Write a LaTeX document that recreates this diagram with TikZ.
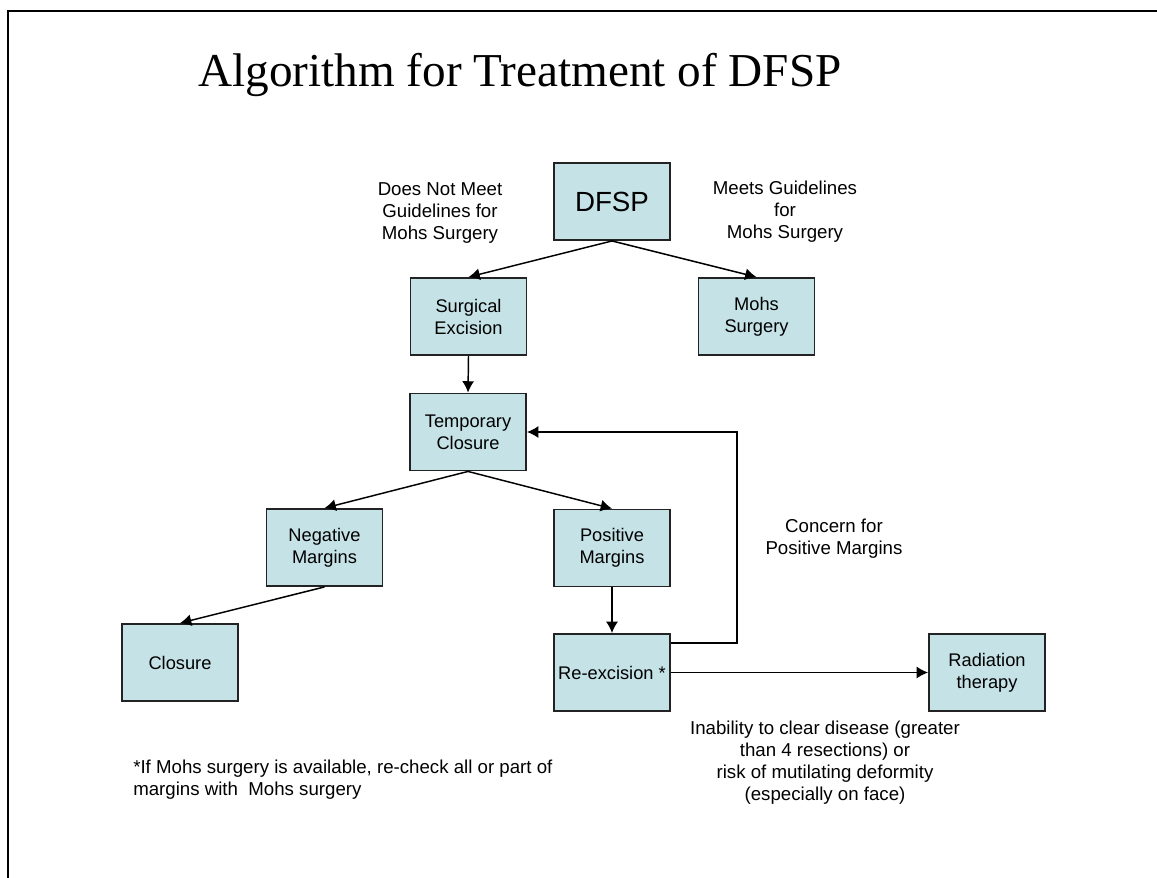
\documentclass[tikz,border=0pt]{standalone}
\usepackage{fontspec}
\setmainfont{Liberation Sans}
\newfontfamily\titlefont{Liberation Serif}
\usetikzlibrary{arrows.meta,calc}
\definecolor{boxfill}{RGB}{197,226,230}
\definecolor{boxline}{RGB}{35,35,35}
\tikzset{
  stepbox/.style={draw=boxline,line width=1.4pt,fill=boxfill,inner sep=0pt,
    minimum width=87pt,minimum height=57.75pt,align=center,
    font=\fontsize{13.7pt}{16.5pt}\selectfont},
  lbl/.style={inner sep=0pt,align=center,font=\fontsize{14pt}{16.5pt}\selectfont},
  arr/.style={draw=black,line width=1.1pt,-{Latex[length=8.5pt,width=9pt]}},
}
\begin{document}
\begin{tikzpicture}[x=0.75pt,y=-0.75pt]
\useasboundingbox (0,0) rectangle (1157,878);
\draw[line width=1.6pt] (8,880) -- (8,11) -- (1160,11);
\node[anchor=base,inner sep=0pt,font=\titlefont\fontsize{35.4pt}{40pt}\selectfont] (title) at (520,86) {Algorithm for Treatment of DFSP};

\node[stepbox,font=\fontsize{20.8pt}{24pt}\selectfont] (dfsp) at (612,201.5) {DFSP};
\node[stepbox] (surg) at (468.5,316.5) {Surgical\\Excision};
\node[stepbox] (mohs) at (756.5,316.5) {Mohs\\Surgery};
\node[stepbox] (temp) at (468,432) {Temporary\\Closure};
\node[stepbox] (neg) at (324.5,547.5) {Negative\\Margins};
\node[stepbox] (pos) at (612,548) {Positive\\Margins};
\node[stepbox] (clos) at (180,662.5) {Closure};
\node[stepbox] (reex) at (612,672.5) {Re-excision *};
\node[stepbox] (rad) at (987,672.5) {Radiation\\therapy};

\node[lbl] (l1) at (440,213) {Does Not Meet\\Guidelines for\\Mohs Surgery};
\node[lbl] (l2) at (785,212) {Meets Guidelines\\for\\Mohs Surgery};
\node[lbl] (l3) at (834,539) {Concern for\\Positive Margins};
\node[lbl] (l4) at (825,763) {Inability to clear disease (greater\\than 4 resections) or\\risk of mutilating deformity\\(especially on face)};
\node[lbl,align=left,anchor=west] (l5) at (133,780) {*If Mohs surgery is available, re-check all or part of\\margins with\ \ Mohs surgery};

\draw[arr] (dfsp.south) -- (surg.north);
\draw[arr] (dfsp.south) -- (mohs.north);
\draw[arr] (surg.south) -- (temp.north);
\draw[arr] (temp.south) -- (neg.north);
\draw[arr] (temp.south) -- (pos.north);
\draw[arr] (neg.south) -- (clos.north);
\draw[arr] (pos.south) -- (reex.north);
\coordinate (lp) at (737,643);
\draw[arr] (reex.east |- lp) -- (lp) |- (temp.east);
\draw[arr] (reex.east) -- (rad.west);
\end{tikzpicture}
\end{document}
